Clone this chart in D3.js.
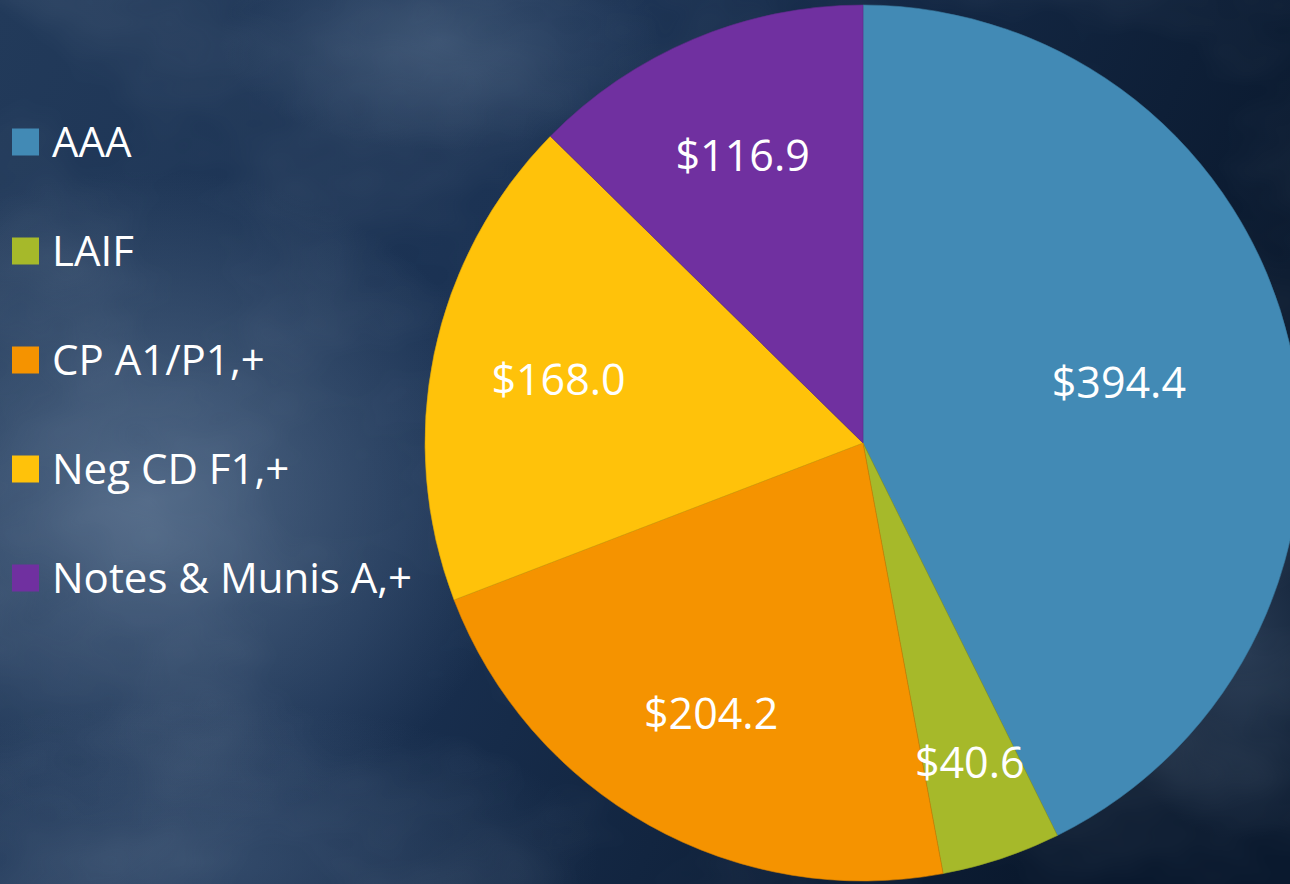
<!DOCTYPE html>
<html>
<head>
<meta charset="utf-8">
<script src="https://cdn.jsdelivr.net/npm/d3@7"></script>
<style>
  html, body { margin: 0; padding: 0; background: #1a3050; overflow: hidden; }
  text { font-family: "Open Sans", sans-serif; fill: #fff; }
</style>
</head>
<body>
<div class="chart"></div>
<script>
const width = 1290
const height = 884

// data ($ millions)
const categories = ['AAA', 'LAIF', 'CP A1/P1,+', 'Neg CD F1,+', 'Notes & Munis A,+']
const values = [394.4, 40.6, 204.2, 168.0, 116.9]
const labels = ['$394.4', '$40.6', '$204.2', '$168.0', '$116.9']
const colors = ['#428ab5', '#a6b92a', '#f59300', '#ffc20a', '#7030a0']

const svg = d3
  .select('.chart')
  .append('svg')
  .attr('width', width)
  .attr('height', height)

// cloudy background
const defs = svg.append('defs')
const bg = defs.append('linearGradient').attr('id', 'bg').attr('x1', 0).attr('y1', 0).attr('x2', 1).attr('y2', 0.3)
bg.append('stop').attr('offset', '0%').attr('stop-color', '#223a5a')
bg.append('stop').attr('offset', '45%').attr('stop-color', '#1a3152')
bg.append('stop').attr('offset', '100%').attr('stop-color', '#0a192e')

const glow = defs.append('radialGradient').attr('id', 'glow')
glow.append('stop').attr('offset', '0%').attr('stop-color', '#566e8c').attr('stop-opacity', 0.85)
glow.append('stop').attr('offset', '100%').attr('stop-color', '#566e8c').attr('stop-opacity', 0)

const clouds = defs.append('filter').attr('id', 'clouds').attr('x', 0).attr('y', 0).attr('width', 1).attr('height', 1)
clouds.append('feTurbulence').attr('type', 'fractalNoise').attr('baseFrequency', '0.004 0.006').attr('numOctaves', 4).attr('seed', 7)
clouds.append('feColorMatrix').attr('values', '0 0 0 0 0.5  0 0 0 0 0.6  0 0 0 0 0.72  0 0 0 0.45 -0.16')

svg.append('rect').attr('width', width).attr('height', height).attr('fill', 'url(#bg)')
svg.append('ellipse').attr('cx', 150).attr('cy', 500).attr('rx', 380).attr('ry', 330).attr('fill', 'url(#glow)')
svg.append('ellipse').attr('cx', 200).attr('cy', 860).attr('rx', 400).attr('ry', 160).attr('fill', 'url(#glow)').attr('opacity', 0.5)
svg.append('ellipse').attr('cx', 440).attr('cy', 40).attr('rx', 220).attr('ry', 110).attr('fill', 'url(#glow)').attr('opacity', 0.6)
svg.append('ellipse').attr('cx', 1240).attr('cy', 640).attr('rx', 140).attr('ry', 200).attr('fill', 'url(#glow)').attr('opacity', 0.45)
svg.append('rect').attr('width', width).attr('height', height).attr('filter', 'url(#clouds)').attr('opacity', 0.45)

// pie
const cx = 863
const cy = 443
const radius = 438

const pie = d3.pie().sort(null).value(d => d)
const arcs = pie(values)
const arc = d3.arc().innerRadius(0).outerRadius(radius)

const g = svg.append('g').attr('transform', `translate(${cx}, ${cy})`)

g.selectAll('path')
  .data(arcs)
  .join('path')
  .attr('d', arc)
  .attr('fill', (d, i) => colors[i])
  .attr('stroke', (d, i) => d3.color(colors[i]).darker(0.4))
  .attr('stroke-width', 0.6)

// labels sit further out on the thinner slices
const labelFrac = d => d.endAngle - d.startAngle > 2 ? 0.6 : d.endAngle - d.startAngle < 0.5 ? 0.77 : 0.71
g.selectAll('text.val')
  .data(arcs)
  .join('text')
  .attr('class', 'val')
  .attr('transform', d => {
    const r = radius * labelFrac(d)
    const a = (d.startAngle + d.endAngle) / 2
    return `translate(${Math.sin(a) * r}, ${-Math.cos(a) * r})`
  })
  .attr('text-anchor', 'middle')
  .attr('dy', '0.35em')
  .style('font-size', '43px')
  .text((d, i) => labels[i])

// legend
const legendY = d3.scalePoint().domain(categories).range([142, 578])
const legend = svg.append('g')
  .selectAll('g')
  .data(categories)
  .join('g')
  .attr('transform', d => `translate(12, ${legendY(d)})`)

legend.append('rect').attr('y', -13.5).attr('width', 27).attr('height', 27).attr('fill', (d, i) => colors[i])
legend.append('text').attr('x', 40).attr('dy', '0.36em').style('font-size', '42px').text(d => d)
</script>
</body>
</html>
